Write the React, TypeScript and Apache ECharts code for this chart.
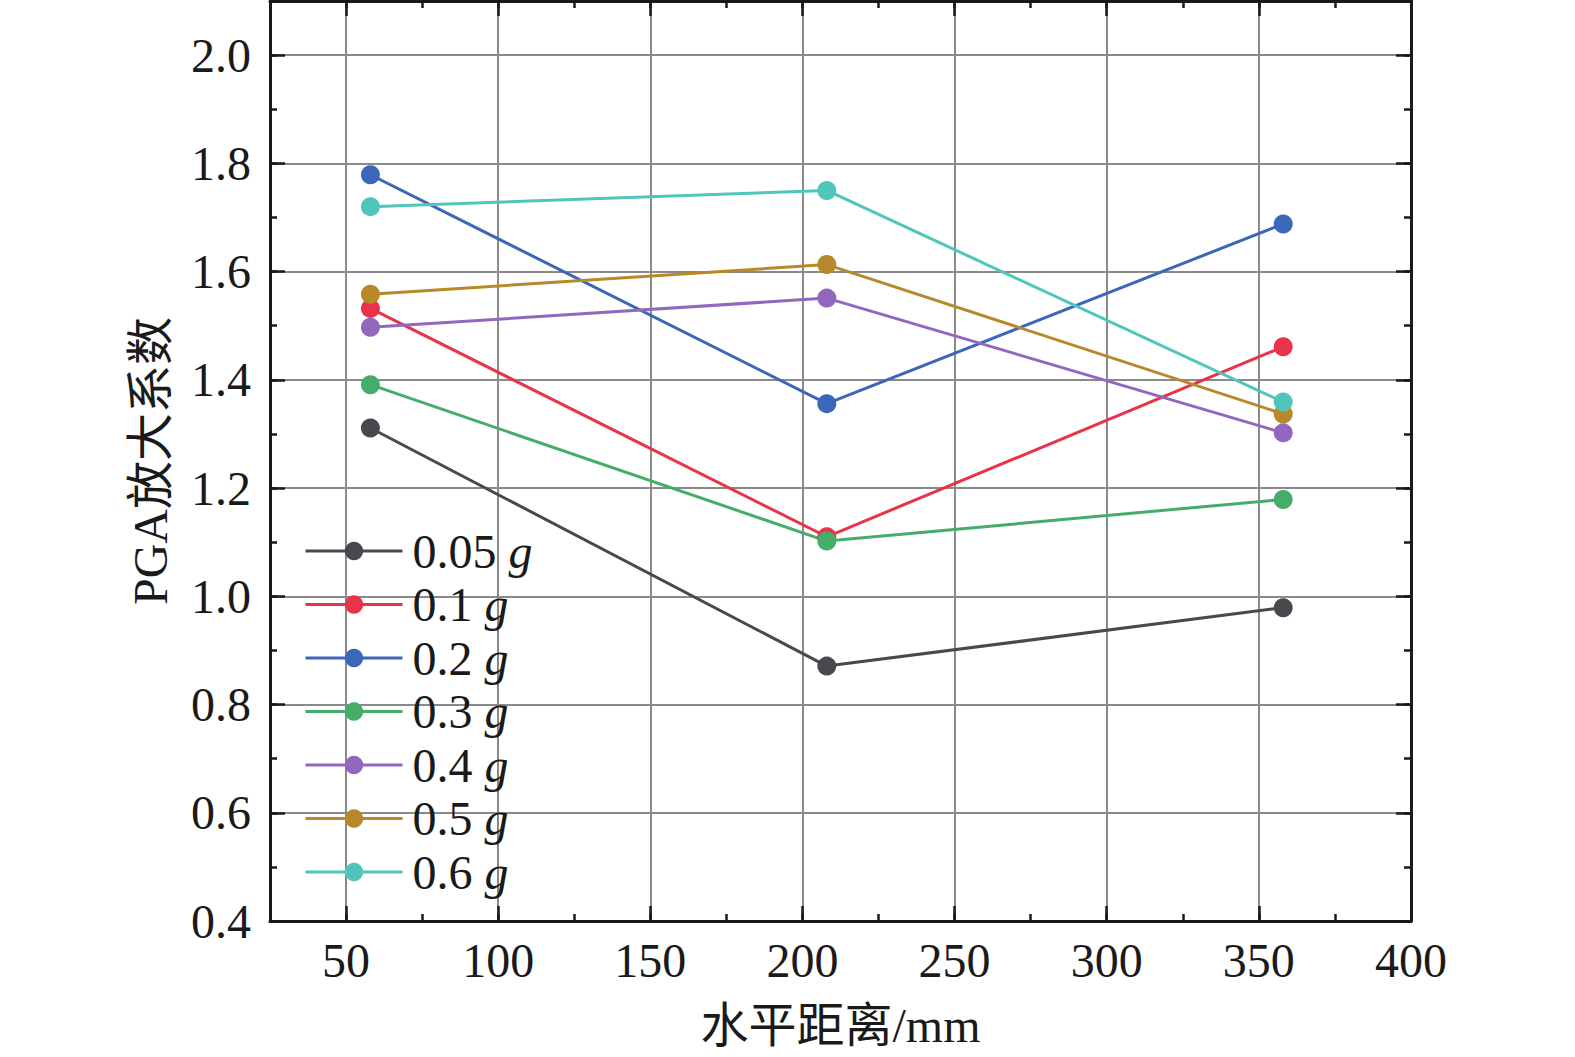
import React, { useEffect, useRef } from "react";
import * as echarts from "echarts";

const xPositions = [58, 208, 358];
const seriesNames = ["0.05 g", "0.1 g", "0.2 g", "0.3 g", "0.4 g", "0.5 g", "0.6 g"];
const s005 = [1.311, 0.871, 0.979];
const s01 = [1.532, 1.11, 1.461];
const s02 = [1.779, 1.356, 1.688];
const s03 = [1.391, 1.102, 1.179];
const s04 = [1.497, 1.551, 1.302];
const s05 = [1.558, 1.613, 1.337];
const s06 = [1.72, 1.75, 1.359];
const seriesValues = [s005, s01, s02, s03, s04, s05, s06];
const seriesColors = ["#48494e", "#e8334a", "#3b66b9", "#45ad69", "#9168bd", "#b8892a", "#4fc6b9"];

const FONT = "'Liberation Serif', 'Times New Roman', 'Noto Sans CJK SC', serif";
const INK = "#1a1a1a";
const GRIDC = "#8a8a8a";
const FS = 48;

const G = { left: 270, right: 164, top: 1, bottom: 136 };
const X = { min: 25, max: 400, interval: 25 };
const Y = { min: 0.4, max: 2.1, interval: 0.1 };

export default function App() {
  const ref = useRef<HTMLDivElement>(null);
  useEffect(() => {
    if (!ref.current) return;
    const chart = echarts.init(ref.current, undefined, { renderer: "svg" });
    const hidden = { show: false };
    const stripX = (gridIndex: number) => ({
      type: "value", gridIndex, ...X,
      axisLine: hidden, axisTick: hidden, axisLabel: hidden,
      splitLine: { show: true, lineStyle: { color: ["transparent", INK], width: 2.5 } },
    });
    const stripY = (gridIndex: number) => ({
      type: "value", gridIndex, ...Y,
      axisLine: hidden, axisTick: hidden, axisLabel: hidden,
      splitLine: { show: true, lineStyle: { color: [INK, "transparent"], width: 2.5 } },
    });
    const hiddenX = (gridIndex: number) => ({ type: "value", gridIndex, ...X, show: false, splitLine: hidden });
    const hiddenY = (gridIndex: number) => ({ type: "value", gridIndex, ...Y, show: false, splitLine: hidden });

    const option: any = {
      animation: false,
      backgroundColor: "#ffffff",
      textStyle: { fontFamily: FONT, color: INK },
      grid: [
        { ...G },
        { left: G.left, right: G.right, bottom: G.bottom, height: 15 },
        { left: G.left, right: G.right, top: G.top, height: 15 },
        { left: G.left, width: 15, top: G.top, bottom: G.bottom },
        { right: G.right, width: 15, top: G.top, bottom: G.bottom },
      ],
      xAxis: [
        {
          type: "value", gridIndex: 0, position: "bottom", ...X,
          name: "水平距离/mm", nameLocation: "middle", nameGap: 80,
          nameTextStyle: { fontSize: FS, color: INK, fontFamily: FONT },
          axisLine: { show: true, onZero: false, lineStyle: { color: INK, width: 3 } },
          axisTick: { show: true, inside: true, length: 7, lineStyle: { color: INK, width: 2.5 } },
          axisLabel: {
            fontSize: FS, color: INK, fontFamily: FONT, margin: 15,
            formatter: (v: number) => (Math.round(v) % 50 === 0 ? String(Math.round(v)) : ""),
          },
          splitLine: { show: true, lineStyle: { color: ["transparent", GRIDC], width: 2 } },
        },
        {
          type: "value", gridIndex: 0, position: "top", ...X,
          axisLine: { show: true, onZero: false, lineStyle: { color: INK, width: 3 } },
          axisTick: { show: true, inside: true, length: 7, lineStyle: { color: INK, width: 2.5 } },
          axisLabel: hidden, splitLine: hidden,
        },
        stripX(1), stripX(2), hiddenX(3), hiddenX(4),
      ],
      yAxis: [
        {
          type: "value", gridIndex: 0, position: "left", ...Y,
          name: "PGA放大系数", nameLocation: "middle", nameGap: 96, nameRotate: 90,
          nameTextStyle: { fontSize: FS, color: INK, fontFamily: FONT },
          axisLine: { show: true, onZero: false, lineStyle: { color: INK, width: 3 } },
          axisTick: { show: true, inside: true, length: 7, lineStyle: { color: INK, width: 2.5 } },
          axisLabel: {
            fontSize: FS, color: INK, fontFamily: FONT, margin: 19,
            formatter: (v: number) => (Math.round(v * 10) % 2 === 0 ? v.toFixed(1) : ""),
          },
          splitLine: { show: true, lineStyle: { color: [GRIDC, "transparent"], width: 2 } },
        },
        {
          type: "value", gridIndex: 0, position: "right", ...Y,
          axisLine: { show: true, onZero: false, lineStyle: { color: INK, width: 3 } },
          axisTick: { show: true, inside: true, length: 7, lineStyle: { color: INK, width: 2.5 } },
          axisLabel: hidden, splitLine: hidden,
        },
        hiddenY(1), hiddenY(2), stripY(3), stripY(4),
      ],
      legend: {
        orient: "vertical", left: 304, top: 527, padding: 0,
        itemWidth: 97, itemHeight: 23, itemGap: 5.5,
        data: seriesNames,
        lineStyle: { width: 3 },
        formatter: (name: string) => `{a|${name.split(" ")[0]} }{b|g}`,
        textStyle: {
          fontSize: FS, lineHeight: 40, color: INK, fontFamily: FONT,
          rich: {
            a: { fontSize: FS, lineHeight: 40, color: INK, fontFamily: FONT, padding: [0, 0, 0, 5] },
            b: { fontSize: FS, lineHeight: 40, color: INK, fontFamily: FONT, fontStyle: "italic" },
          },
        },
      },
      series: seriesNames.map((name, i) => ({
        name, type: "line", xAxisIndex: 0, yAxisIndex: 0,
        data: xPositions.map((x, j) => [x, seriesValues[i][j]]),
        symbol: "circle", symbolSize: 19,
        lineStyle: { color: seriesColors[i], width: 3 },
        itemStyle: { color: seriesColors[i] },
        z: 5,
      })),
    };
    chart.setOption(option);
    return () => chart.dispose();
  }, []);
  return <div ref={ref} style={{ position: "fixed", left: 0, top: 0, width: 1575, height: 1057 }} />;
}
